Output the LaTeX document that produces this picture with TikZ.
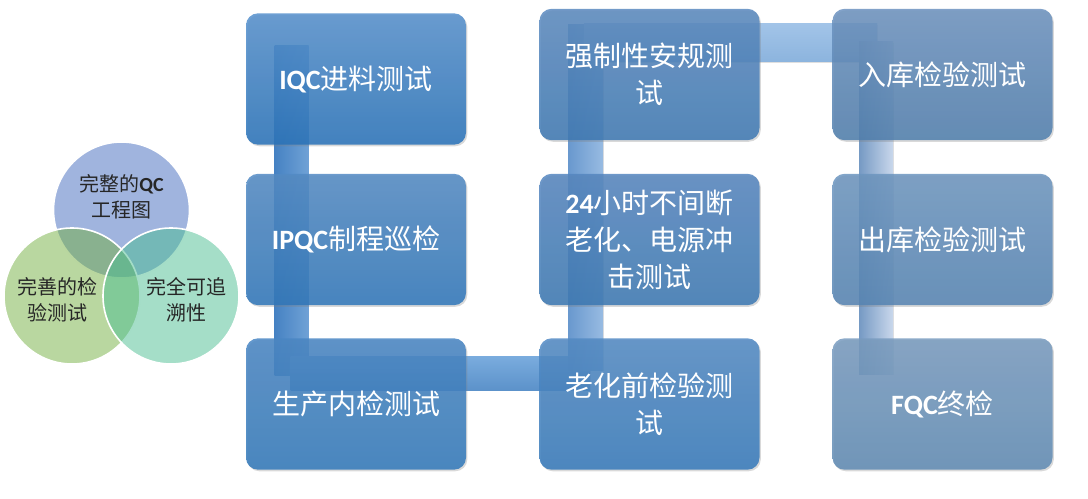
\documentclass[tikz,border=0pt]{standalone}
\usepackage{fontspec}
\setmainfont{Noto Sans CJK SC}
\newfontfamily\lat{Carlito}
\usetikzlibrary{calc,shadows,backgrounds}
\newcommand{\en}[1]{{\lat\bfseries #1}}
% venn colours
\definecolor{vtop}{RGB}{65,105,189}
\definecolor{vleft}{RGB}{115,175,65}
\definecolor{vright}{RGB}{75,189,145}
% stage colours (top/bottom)
\definecolor{iqcA}{RGB}{85,144,205}\definecolor{iqcB}{RGB}{40,114,185}
\definecolor{ipqcA}{RGB}{82,138,196}\definecolor{ipqcB}{RGB}{47,118,185}
\definecolor{scA}{RGB}{73,134,196}\definecolor{scB}{RGB}{49,120,185}
\definecolor{lqA}{RGB}{82,138,196}\definecolor{lqB}{RGB}{52,120,185}
\definecolor{hA}{RGB}{85,134,191}\definecolor{hB}{RGB}{59,120,179}
\definecolor{qzA}{RGB}{91,138,191}\definecolor{qzB}{RGB}{61,120,179}
\definecolor{rkA}{RGB}{108,146,191}\definecolor{rkB}{RGB}{79,126,173}
\definecolor{ckA}{RGB}{108,149,191}\definecolor{ckB}{RGB}{85,132,179}
\definecolor{fqcA}{RGB}{120,155,191}\definecolor{fqcB}{RGB}{94,138,179}
% bar colours
\definecolor{barA}{RGB}{70,130,195}\definecolor{barB}{RGB}{112,162,214}
\definecolor{barC}{RGB}{122,172,222}\definecolor{barD}{RGB}{92,146,202}
\definecolor{barE}{RGB}{105,152,206}\definecolor{barF}{RGB}{152,187,226}
\definecolor{barG}{RGB}{162,196,232}\definecolor{barH}{RGB}{140,180,222}
\definecolor{barI}{RGB}{118,154,196}\definecolor{barJ}{RGB}{202,216,236}
\begin{document}
\begin{tikzpicture}[x=0.75pt,y=-0.75pt]
  \tikzstyle{stage}=[rectangle,rounded corners=9pt,minimum width=165pt,minimum height=98.5pt,align=center,text=white,font=\fontsize{21}{27.75}\selectfont,fill opacity=0.85,text opacity=1,drop shadow={opacity=0.3,shadow xshift=1pt,shadow yshift=-1.2pt}]
  \tikzstyle{bar}=[drop shadow={opacity=0.25,shadow xshift=0.5pt,shadow yshift=-1pt}]
  \tikzstyle{ring}=[circle,draw=white,line width=1.2pt,minimum size=102pt,inner sep=0pt,fill opacity=0.5]
  \tikzstyle{ringtext}=[align=center,text=black!85,font=\fontsize{15}{19.5}\selectfont]
  \useasboundingbox (0,0) rectangle (1088,499);

  % venn
  \begin{scope}
    \node [ring,fill=vtop] (vqc) at (121.5,210) {};
    \node [ring,fill=vleft] (vtest) at (72,296) {};
    \node [ring,fill=vright] (vtrace) at (171,296) {};
    \node [ringtext] (tqc) at (121.5,196.5) {完整的\en{QC}\\工程图};
    \node [ringtext] (ttest) at (57.5,300) {完善的检\\验测试};
    \node [ringtext] (ttrace) at (186,300) {完全可追\\溯性};
  \end{scope}

  % stages
  \node [stage,top color=iqcA,bottom color=iqcB] (iqc) at (356,79) {\en{IQC}进料测试};
  \node [stage,top color=ipqcA,bottom color=ipqcB] (ipqc) at (356,239.5) {\en{IPQC}制程巡检};
  \node [stage,top color=scA,bottom color=scB] (sc) at (356,404) {生产内检测试};
  \node [stage,top color=qzA,bottom color=qzB] (qz) at (649.5,74.5) {强制性安规测\\试};
  \node [stage,top color=hA,bottom color=hB] (h24) at (649.5,239.5) {\en{24}小时不间断\\老化、电源冲\\击测试};
  \node [stage,top color=lqA,bottom color=lqB] (lq) at (649.5,404) {老化前检验测\\试};
  \node [stage,top color=rkA,bottom color=rkB] (rk) at (942.5,74.5) {入库检验测试};
  \node [stage,top color=ckA,bottom color=ckB] (ck) at (942.5,239.5) {出库检验测试};
  \node [stage,top color=fqcA,bottom color=fqcB] (fqc) at (942.5,404) {\en{FQC}终检};

  % bars behind the stages
  \begin{pgfonlayer}{background}
    \shade[bar,left color=barA,right color=barB] ($(iqc.north west)+(29,32)$) rectangle ($(sc.north west)+(63,37)$);
    \shade[bar,top color=barC,bottom color=barD] ($(sc.north west)+(45,18)$) rectangle ($(lq.north west)+(51,52)$);
    \shade[bar,left color=barE,right color=barF] ($(qz.north west)+(29,16)$) rectangle ($(lq.north west)+(64,32)$);
    \shade[bar,top color=barG,bottom color=barH] ($(qz.north west)+(45,15)$) rectangle ($(rk.north west)+(45,53)$);
    \shade[bar,left color=barI,right color=barJ] ($(rk.north west)+(27,33)$) rectangle ($(fqc.north west)+(61,36)$);
  \end{pgfonlayer}
\end{tikzpicture}
\end{document}
